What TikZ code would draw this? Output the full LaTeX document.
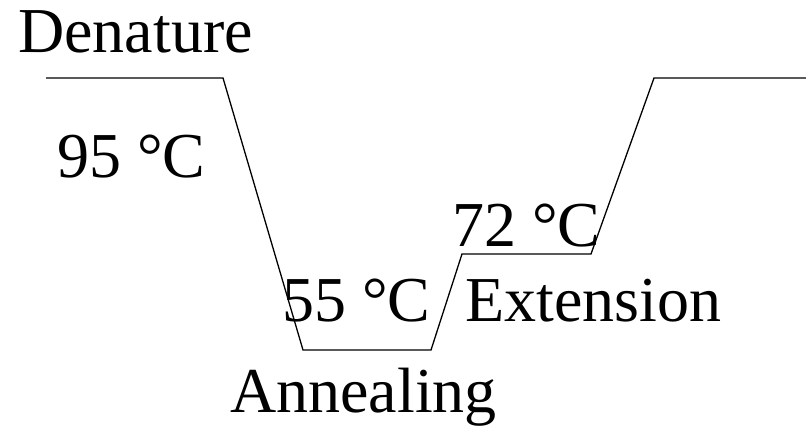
\documentclass[tikz,border=0pt]{standalone}
\usepackage{fontspec}
\setmainfont{Liberation Serif}
\begin{document}
\begin{tikzpicture}[x=1pt,y=-1pt,
  lbl/.style={anchor=base west,inner sep=0pt,font=\fontsize{64}{72}\selectfont},
  curve/.style={line width=1.3pt,line join=miter}]
\useasboundingbox (0,0) rectangle (806,426);
\coordinate (p0) at (46,78);
\coordinate (p1) at (223,78);
\coordinate (p2) at (303,350);
\coordinate (p3) at (431,350);
\coordinate (p4) at (462,254);
\coordinate (p5) at (591,254);
\coordinate (p6) at (654,78);
\coordinate (p7) at (806,78);
\draw[curve] (p0) -- (p1) -- (p2) -- (p3) -- (p4) -- (p5) -- (p6) -- (p7);
\node[lbl] (den) at (18,52) {Denature};
\node[lbl] (t95) at (57,177) {95 °C};
\node[lbl] (t72) at (452,246) {72 °C};
\node[lbl] (t55) at (282,321) {55 °C};
\node[lbl] (ext) at (465,321) {Extension};
\node[lbl] (ann) at (230,412) {Annealing};
\end{tikzpicture}
\end{document}
